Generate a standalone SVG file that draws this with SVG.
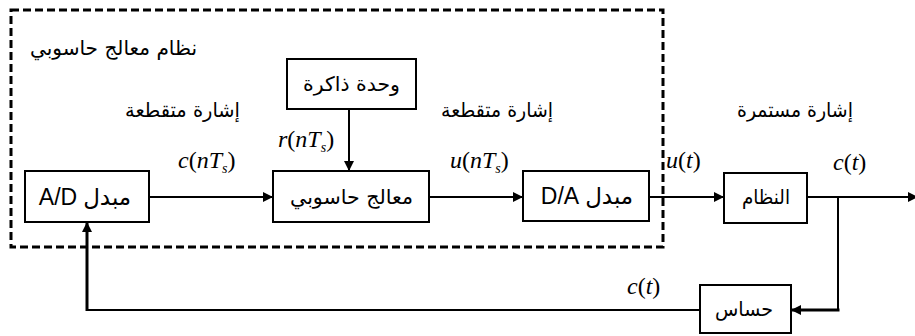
<svg xmlns="http://www.w3.org/2000/svg" width="915" height="336" viewBox="0 0 915 336">
<style>
.box{fill:#fff;stroke:#000;stroke-width:2}
.ar{font-family:"DejaVu Sans",sans-serif;font-size:20px;fill:#000;direction:rtl}
.arb{font-family:"DejaVu Sans",sans-serif;font-size:23px;fill:#000}
.lat{font-family:"Liberation Sans",Arial,sans-serif;font-size:23px;fill:#000}
.m{font-family:"Liberation Serif","Times New Roman",serif;font-size:24px;font-style:italic;fill:#000}
.up{font-style:normal}
.ln{fill:none;stroke:#000;stroke-width:2}
.thick{fill:none;stroke:#000;stroke-width:3}
</style>
<defs>
<marker id="arr" viewBox="0 0 10 10" refX="10" refY="5" markerWidth="10" markerHeight="10" markerUnits="userSpaceOnUse" orient="auto">
<path d="M0,0 L10,5 L0,10 z" fill="#000"/>
</marker>
</defs>
<rect width="915" height="336" fill="#fff"/>
<g id="boundary">
<rect x="11" y="10" width="652" height="237" fill="none" stroke="#000" stroke-width="3" stroke-dasharray="8 4"/>
<text class="ar" x="113.5" y="48" dominant-baseline="central" text-anchor="middle" textLength="167" lengthAdjust="spacingAndGlyphs">نظام معالج حاسوبي</text>
</g>
<g id="connectors">
<path class="ln" d="M149,197 H273" marker-end="url(#arr)"/>
<path class="ln" d="M429,197 H523" marker-end="url(#arr)"/>
<path class="ln" d="M649,197 H724" marker-end="url(#arr)"/>
<path class="ln" d="M807,197 H918" marker-end="url(#arr)"/>
<path class="ln" d="M349,109 V171" marker-end="url(#arr)"/>
<path class="ln" d="M838,197 V311"/>
<path class="thick" d="M839.5,310 H791" marker-end="url(#arr)"/>
<path class="ln" d="M700,310 H86"/>
<path class="thick" d="M87,311 V222" marker-end="url(#arr)"/>
</g>
<g id="labels">
<text class="ar" x="182.5" y="110" dominant-baseline="central" text-anchor="middle" textLength="115" lengthAdjust="spacingAndGlyphs">إشارة متقطعة</text>
<text class="ar" x="497" y="110" dominant-baseline="central" text-anchor="middle" textLength="112" lengthAdjust="spacingAndGlyphs">إشارة متقطعة</text>
<text class="ar" x="795" y="110" dominant-baseline="central" text-anchor="middle" textLength="116" lengthAdjust="spacingAndGlyphs">إشارة مستمرة</text>
<text class="m" x="178" y="168">c<tspan class="up">(</tspan>nT<tspan font-size="14" dy="5">s</tspan><tspan class="up" dy="-5">)</tspan></text>
<text class="m" x="278" y="147">r<tspan class="up">(</tspan>nT<tspan font-size="14" dy="5">s</tspan><tspan class="up" dy="-5">)</tspan></text>
<text class="m" x="450" y="168">u<tspan class="up">(</tspan>nT<tspan font-size="14" dy="5">s</tspan><tspan class="up" dy="-5">)</tspan></text>
<text class="m" x="666" y="168">u<tspan class="up">(</tspan>t<tspan class="up">)</tspan></text>
<text class="m" x="833" y="170">c<tspan class="up">(</tspan>t<tspan class="up">)</tspan></text>
<text class="m" x="627" y="294">c<tspan class="up">(</tspan>t<tspan class="up">)</tspan></text>
</g>
<g id="ad">
<rect class="box" x="25" y="171" width="124" height="51"/>
<text x="85" y="197" dominant-baseline="central" text-anchor="middle"><tspan class="lat">A/D</tspan><tspan class="arb" dx="6">مبدل</tspan></text>
</g>
<g id="memory">
<rect class="box" x="287" y="59" width="129" height="50"/>
<text class="ar" x="351.5" y="84" dominant-baseline="central" text-anchor="middle" textLength="97" lengthAdjust="spacingAndGlyphs">وحدة ذاكرة</text>
</g>
<g id="processor">
<rect class="box" x="273" y="171" width="156" height="51"/>
<text class="ar" x="351.5" y="197" dominant-baseline="central" text-anchor="middle" textLength="123" lengthAdjust="spacingAndGlyphs">معالج حاسوبي</text>
</g>
<g id="da">
<rect class="box" x="523" y="171" width="126" height="50"/>
<text x="587" y="196" dominant-baseline="central" text-anchor="middle"><tspan class="lat">D/A</tspan><tspan class="arb" dx="6">مبدل</tspan></text>
</g>
<g id="system">
<rect class="box" x="724" y="173" width="83" height="50"/>
<text class="ar" x="766" y="197" dominant-baseline="central" text-anchor="middle" textLength="48" lengthAdjust="spacingAndGlyphs">النظام</text>
</g>
<g id="sensor">
<rect class="box" x="700" y="285" width="91" height="48"/>
<text class="ar" x="744" y="309" dominant-baseline="central" text-anchor="middle" textLength="58" lengthAdjust="spacingAndGlyphs">حساس</text>
</g>
</svg>
